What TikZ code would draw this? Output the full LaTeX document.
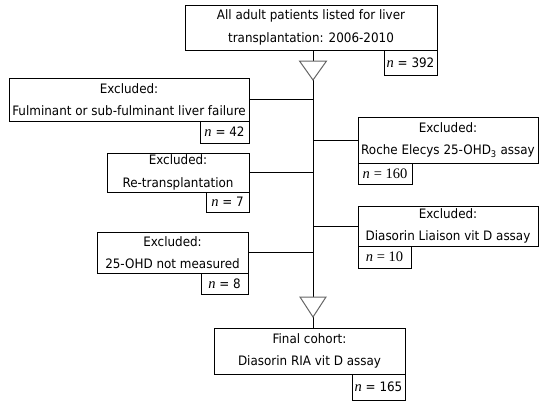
\documentclass[tikz,border=0pt]{standalone}
\usepackage{fontspec}
\setmainfont{DejaVu Sans}[FakeStretch=0.92]
\newfontfamily\serf{Liberation Serif}
\newcommand{\nn}{{\serf\fontsize{14.5}{14}\selectfont\itshape n}}
\newcommand{\sn}[1]{{\serf\fontsize{14.5}{14}\selectfont #1}}
\begin{document}
\begin{tikzpicture}[x=1pt,y=-1pt,
  font=\fontsize{13}{22.5}\selectfont,
  box/.style={draw, line width=1pt, inner sep=0pt, align=center, fill=white},
  cnt/.style={box, font=\fontsize{13}{14}\selectfont},
  link/.style={line width=1pt},
  tri/.style={draw=black!60, line width=1pt, fill=white}]
\useasboundingbox (0,0) rectangle (547,408);

% boxes
\node[box, minimum width=252, minimum height=45] (top) at (311,27.5) {All adult patients listed for liver\\transplantation: 2006-2010};
\node[cnt, minimum width=53, minimum height=25] (n392) at (410.5,62.5) {\nn\ = 392};

\node[box, minimum width=240, minimum height=43] (fulm) at (129,99.5) {Excluded:\\Fulminant or sub-fulminant liver failure};
\node[cnt, minimum width=49, minimum height=22] (n42) at (224.5,132) {\nn\ = 42};

\node[box, minimum width=142, minimum height=39] (retx) at (178,172.5) {Excluded:\\Re-transplantation};
\node[cnt, minimum width=43, minimum height=20] (n7) at (227.5,202) {\nn\ = 7};

\node[box, minimum width=180, minimum height=46] (roche) at (448,140) {Excluded:\\Roche Elecys 25-OHD\textsubscript{3} assay};
\node[cnt, minimum width=54, minimum height=21] (n160) at (385,173.5) {\nn\ \sn{= 160}};

\node[box, minimum width=180, minimum height=40] (liai) at (448,226) {Excluded:\\Diasorin Liaison vit D assay};
\node[cnt, minimum width=53, minimum height=22] (n10) at (384.5,257) {\nn\ \sn{= 10}};

\node[box, minimum width=151, minimum height=41] (ohd) at (172.5,252.5) {Excluded:\\25-OHD not measured};
\node[cnt, minimum width=47, minimum height=21] (n8) at (224.5,283.5) {\nn\ = 8};

\node[box, minimum width=191, minimum height=46] (final) at (309.5,351) {Final cohort:\\Diasorin RIA vit D assay};
\node[cnt, minimum width=53, minimum height=26] (n165) at (378.5,387) {\nn\ = 165};

% triangles
\coordinate (t1a) at (299.5,61);
\coordinate (t1b) at (326.5,61);
\coordinate (t1c) at (313,80);
\coordinate (t2a) at (300,297);
\coordinate (t2b) at (326,297);
\coordinate (t2c) at (313,317);

% main line
\draw[link] (top.south -| t1c) -- (t1c);
\draw[link] (t1c) -- (t2c |- t2a);
\draw[link] (t2c) -- (t2c |- final.north);

% side connectors
\draw[link] (fulm.east) -- (fulm.east -| t1c);
\draw[link] (retx.east) -- (retx.east -| t1c);
\draw[link] (ohd.east) -- (ohd.east -| t1c);
\draw[link] (roche.west) -- (roche.west -| t1c);
\draw[link] (liai.west) -- (liai.west -| t1c);

\draw[tri] (t1a) -- (t1b) -- (t1c) -- cycle;
\draw[tri] (t2a) -- (t2b) -- (t2c) -- cycle;
\end{tikzpicture}
\end{document}
